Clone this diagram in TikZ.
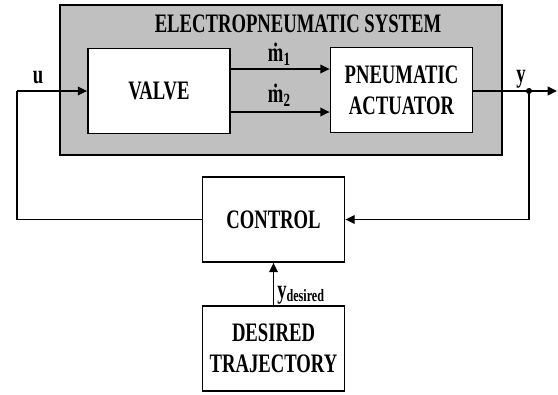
\documentclass[tikz,border=0pt]{standalone}
\usepackage{fontspec}
\setmainfont{Liberation Serif}[FakeStretch=0.70]
\usetikzlibrary{arrows.meta,positioning,calc}
\definecolor{sysgray}{RGB}{192,192,192}

\begin{document}
\begin{tikzpicture}[x=0.75pt,y=-0.75pt,
    every node/.style={font=\bfseries\fontsize{20}{23}\selectfont},
    box/.style={draw,fill=white,line width=1.1pt,minimum width=106.75pt,minimum height=64pt,align=center,inner sep=0pt},
    sig/.style={line width=1.1pt,-{Triangle[length=7pt,width=6.5pt]}},
    wire/.style={line width=1.1pt},
    lbl/.style={inner sep=0pt}
]
\useasboundingbox (0,0) rectangle (558,394);

% electropneumatic system
\node[draw,fill=sysgray,line width=1.1pt,minimum width=331.5pt,minimum height=112.5pt] (sys) at (281,80) {};
\node[lbl] (title) at (298,24) {ELECTROPNEUMATIC SYSTEM};
\node[box] (valve) at (159,91) {VALVE};
\node[box] (act) at (401.5,90) {PNEUMATIC\\ACTUATOR};

% loop
\node[box] (control) at (273.5,219.5) {CONTROL};
\node[box] (desired) at (273.5,348.5) {DESIRED\\TRAJECTORY};

\coordinate (uin) at (17,91);
\coordinate (ydot) at (529,91);
\coordinate (yend) at (557,91);

\draw[wire] (control.west) -| (uin);
\draw[sig] (uin) -- (valve.west);
\draw[sig] ([yshift=16.5pt]valve.east) -- ([yshift=16.5pt]valve.east -| act.west);
\draw[sig] ([yshift=-15.75pt]valve.east) -- ([yshift=-15.75pt]valve.east -| act.west);
\draw[wire] (valve.east -| act.east) -- (ydot);
\draw[sig] (ydot) -- (yend);
\draw[sig] (ydot) |- (control.east);
\draw[sig] (desired.north) -- (control.south);
\fill (ydot) circle[radius=2.3pt];

% labels
\node[lbl] (ulbl) at (38,78) {u};
\node[lbl] (ylbl) at (521,79) {y};
\node[lbl] (m1) at (279,54) {\.{m}\raisebox{-0.3ex}{\fontsize{14}{14}\selectfont 1}};
\node[lbl] (m2) at (279,95) {\.{m}\raisebox{-0.3ex}{\fontsize{14}{14}\selectfont 2}};
\node[lbl,anchor=west] (ydes) at (277,295) {y\raisebox{-0.3ex}{\fontsize{13}{13}\selectfont desired}};
\end{tikzpicture}
\end{document}
